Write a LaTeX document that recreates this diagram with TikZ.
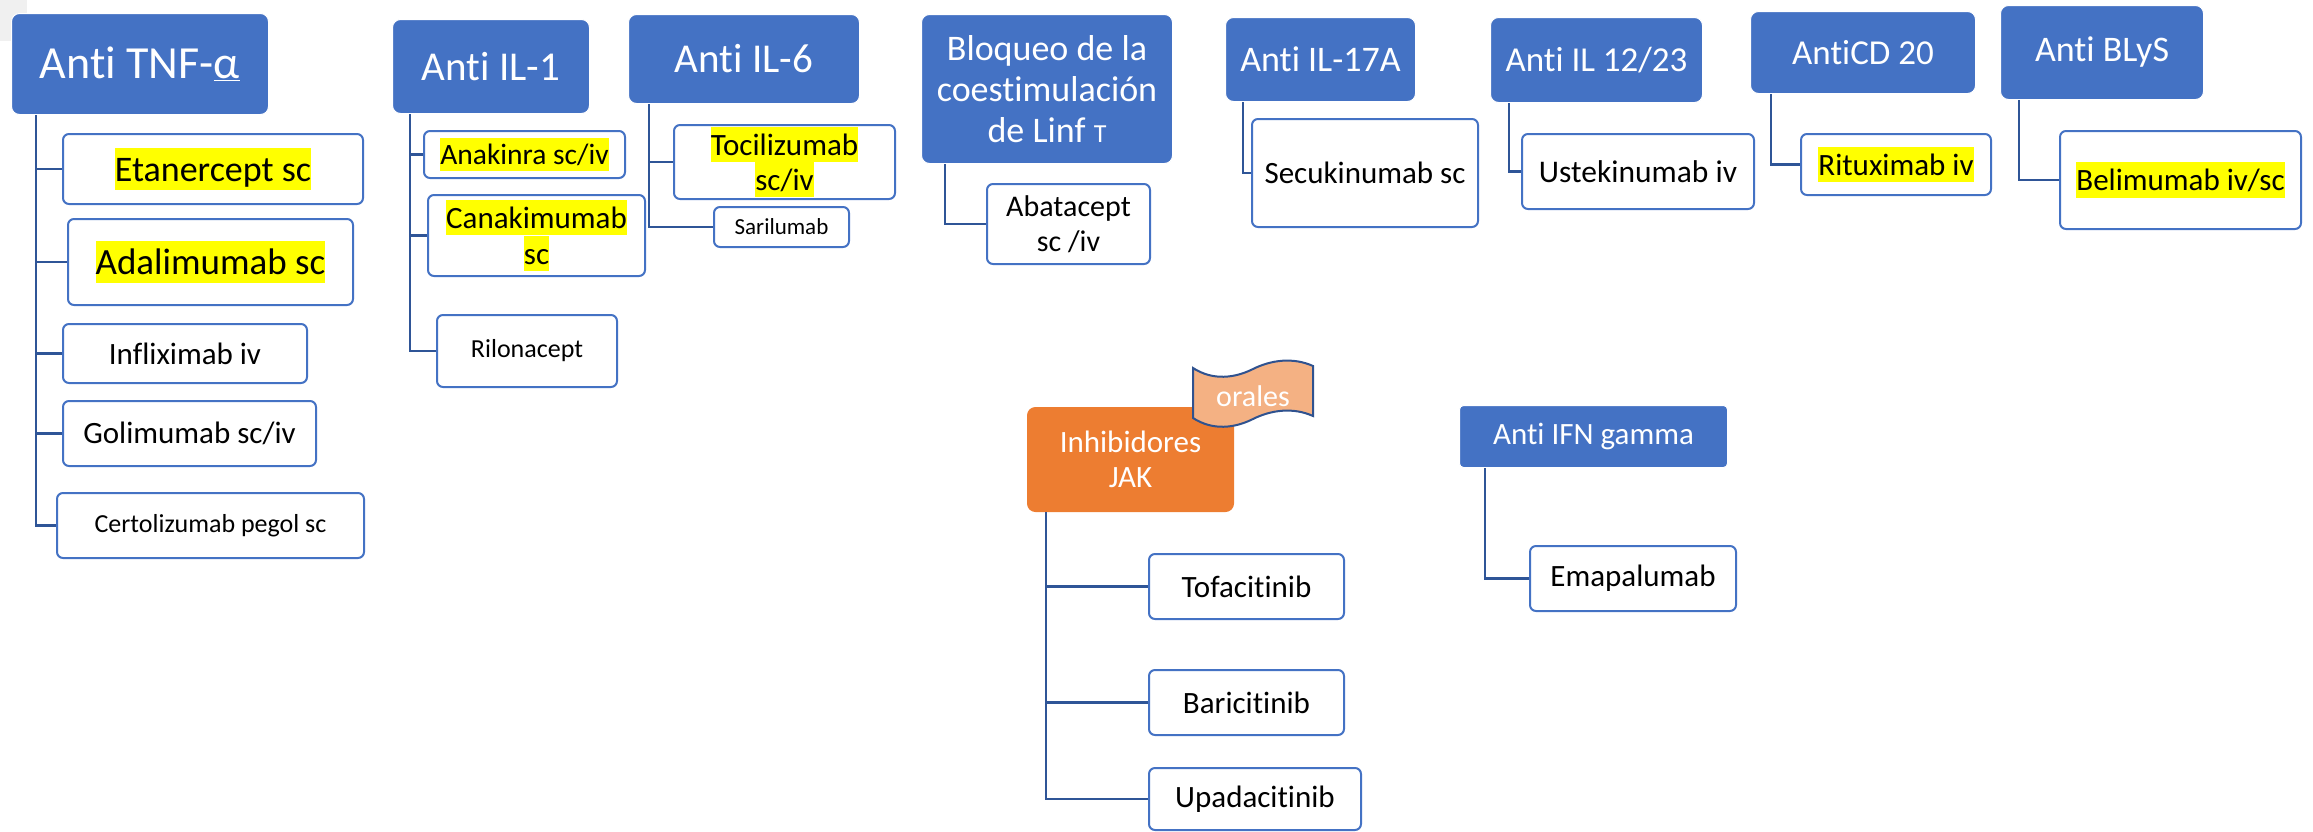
\documentclass[tikz,border=0pt]{standalone}
\usepackage{fontspec}
\setmainfont{Carlito}[Ligatures=NoCommon]
\usetikzlibrary{calc}

\definecolor{hdrblue}{HTML}{4472C4}
\definecolor{lineblue}{HTML}{2F5597}
\definecolor{jakorange}{HTML}{ED7D31}
\definecolor{tanorange}{HTML}{F4B183}
\definecolor{bannerline}{HTML}{2F528F}
\definecolor{hlyellow}{HTML}{FFFF00}
\definecolor{cornergray}{HTML}{F0F0F0}

% yellow text highlight, one line at a time
\newcommand\hlt[1]{{\setlength{\fboxsep}{0pt}\colorbox{hlyellow}{\rule[-0.22em]{0pt}{1.14em}#1}}}
\newcommand\fsz[2]{\fontsize{#1}{#2}\selectfont}

\tikzset{
  hdr/.style={fill=hdrblue, draw=white, line width=1pt, rounded corners=8pt,
    text=white, align=center, inner sep=0pt, anchor=north west},
  kid/.style={fill=white, draw=hdrblue, line width=2pt, rounded corners=6pt,
    text=black, align=center, inner sep=0pt, anchor=north west},
  conn/.style={draw=lineblue, line width=2.5pt},
  banner/.style={fill=tanorange, draw=bannerline, line width=2pt}
}

\begin{document}
\begin{tikzpicture}[x=1pt, y=-1pt]
\useasboundingbox (0,0) rectangle (2313,831);
\fill[cornergray] (0,0) rectangle (27,41);

% ---- group headers ----
\node[hdr, minimum width=257, minimum height=101, font={\fsz{46}{56}}] (tnf) at (11,13) {Anti TNF-\underline{α}};
\node[hdr, minimum width=197, minimum height=94, font={\fsz{41}{50}}] (il1) at (392,19) {Anti IL-1};
\node[hdr, minimum width=231, minimum height=89, font={\fsz{41}{50}}] (il6) at (628,14) {Anti IL-6};
\node[hdr, minimum width=251, minimum height=149, font={\fsz{36}{41}}] (coest) at (921,14)
  {Bloqueo de la\\coestimulación\\de Linf {\fsz{26}{26}T}};
\node[hdr, minimum width=190, minimum height=84, font={\fsz{36}{44}}] (il17) at (1225,17) {Anti IL-17A};
\node[hdr, minimum width=212, minimum height=85, font={\fsz{35}{43}}] (il12) at (1490,17) {Anti IL 12/23};
\node[hdr, minimum width=225, minimum height=82, font={\fsz{35}{43}}] (cd20) at (1750,11) {AntiCD 20};
\node[hdr, minimum width=203, minimum height=94, font={\fsz{36}{44}}] (blys) at (2000,5) {Anti BLyS};
\node[hdr, rounded corners=4pt, minimum width=268, minimum height=62, font={\fsz{31}{38}}] (ifn) at (1459,405) {Anti IFN gamma};
\node[hdr, fill=jakorange, draw=jakorange, minimum width=206, minimum height=104, font={\fsz{31}{35}}] (jak) at (1027,407) {Inhibidores\\JAK};

% ---- drugs ----
\node[kid, minimum width=300, minimum height=70, font={\fsz{36}{44}}] (eta) at (62,133) {\hlt{Etanercept sc}};
\node[kid, minimum width=285, minimum height=86, font={\fsz{37}{45}}] (ada) at (67,218) {\hlt{Adalimumab sc}};
\node[kid, minimum width=244, minimum height=59, font={\fsz{31}{38}}] (inf) at (62,323) {Infliximab iv};
\node[kid, minimum width=253, minimum height=65, font={\fsz{31}{38}}] (gol) at (62,400) {Golimumab sc/iv};
\node[kid, minimum width=307, minimum height=65, font={\fsz{26}{32}}] (cer) at (56,492) {Certolizumab pegol sc};

\node[kid, minimum width=201, minimum height=47, font={\fsz{29.5}{36}}] (ana) at (423,130) {\hlt{Anakinra sc/iv}};
\node[kid, minimum width=217, minimum height=81, font={\fsz{31}{35.4}}] (can) at (427,194) {\hlt{Canakimumab}\\\hlt{sc}};
\node[kid, minimum width=180, minimum height=72, font={\fsz{26}{32}}] (ril) at (436,314) {Rilonacept};

\node[kid, minimum width=221, minimum height=74, font={\fsz{31}{35.4}}] (toc) at (673,124) {\hlt{Tocilizumab}\\\hlt{sc/iv}};
\node[kid, minimum width=135, minimum height=40, font={\fsz{23}{28}}] (sar) at (713,206) {Sarilumab};

\node[kid, minimum width=163, minimum height=80, font={\fsz{30}{35}}] (aba) at (986,183) {Abatacept\\sc /iv};
\node[kid, minimum width=226, minimum height=108, font={\fsz{31}{38}}] (sec) at (1251,118) {Secukinumab sc};
\node[kid, minimum width=232, minimum height=75, font={\fsz{31.5}{38}}] (ust) at (1521,133) {Ustekinumab iv};
\node[kid, minimum width=190, minimum height=61, font={\fsz{31}{38}}] (rit) at (1800,133) {\hlt{Rituximab iv}};
\node[kid, minimum width=241, minimum height=98, font={\fsz{31}{38}}] (bel) at (2059,130) {\hlt{Belimumab iv/sc}};

\node[kid, minimum width=195, minimum height=65, font={\fsz{31}{38}}] (tof) at (1148,553) {Tofacitinib};
\node[kid, minimum width=195, minimum height=65, font={\fsz{31}{38}}] (bar) at (1148,669) {Baricitinib};
\node[kid, minimum width=212, minimum height=62, font={\fsz{31}{38}}] (upa) at (1148,767) {Upadacitinib};
\node[kid, minimum width=206, minimum height=65, font={\fsz{31}{38}}] (ema) at (1529,545) {Emapalumab};

% ---- trunk points under each header ----
\coordinate (tnfT)  at ($(tnf.south west)+(25,0)$);
\coordinate (il1T)  at ($(il1.south west)+(18,0)$);
\coordinate (il6T)  at ($(il6.south west)+(21,0)$);
\coordinate (coeT)  at ($(coest.south west)+(24,0)$);
\coordinate (il17T) at ($(il17.south west)+(18,0)$);
\coordinate (il12T) at ($(il12.south west)+(19,0)$);
\coordinate (cd20T) at ($(cd20.south west)+(21,0)$);
\coordinate (blysT) at ($(blys.south west)+(19,0)$);
\coordinate (jakT)  at ($(jak.south west)+(19,0)$);
\coordinate (ifnT)  at ($(ifn.south west)+(26,0)$);

% ---- connectors ----
\foreach \c in {eta,ada,inf,gol,cer} \draw[conn] (tnfT) |- (\c.west);
\foreach \c in {ana,can,ril} \draw[conn] (il1T) |- (\c.west);
\foreach \c in {toc,sar} \draw[conn] (il6T) |- (\c.west);
\draw[conn] (coeT) |- (aba.west);
\draw[conn] (il17T) |- (sec.west);
\draw[conn] (il12T) |- (ust.west);
\draw[conn] (cd20T) |- (rit.west);
\draw[conn] (blysT) |- (bel.west);
\foreach \c in {tof,bar,upa} \draw[conn] (jakT) |- (\c.west);
\draw[conn] (ifnT) |- (ema.west);

% ---- "orales" wave banner over the JAK box ----
\draw[banner] (1193,368) .. controls (1213,381) and (1235,378) .. (1253,369)
  .. controls (1271,360) and (1293,357) .. (1313,366) -- (1313,416)
  .. controls (1293,407) and (1271,410) .. (1253,419)
  .. controls (1235,428) and (1213,431) .. (1193,418) -- cycle;
\node[text=white, font={\fsz{30}{36}}, inner sep=0pt] (orales) at (1253,396) {orales};
\end{tikzpicture}
\end{document}
